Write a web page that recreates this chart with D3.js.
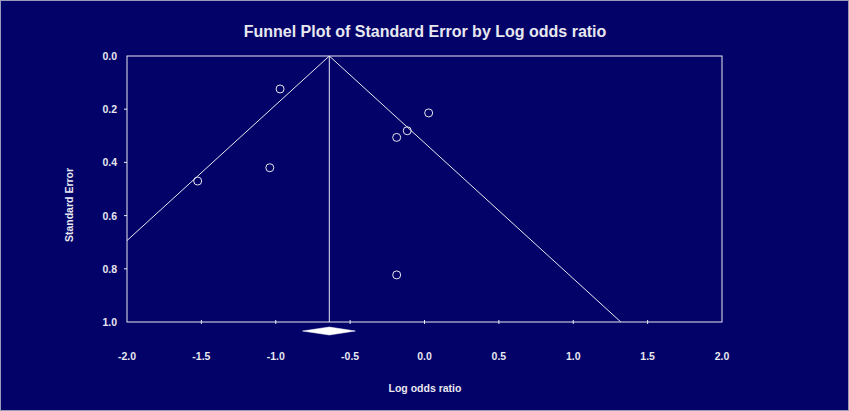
<!DOCTYPE html>
<html><head><meta charset="utf-8">
<script src="https://cdn.jsdelivr.net/npm/d3@7"></script>
<style>
html,body{margin:0;padding:0;background:#020268;}
svg{display:block;}
</style></head>
<body>
<script>
const logOdds = [-0.971, -1.525, -1.04, 0.028, -0.116, -0.187, -0.187];
const stdErr  = [0.124, 0.470, 0.420, 0.214, 0.281, 0.306, 0.823];
const pooledMean = -0.64;
const pooledLower = -0.82;
const pooledUpper = -0.465;
const xTicks = [-2.0, -1.5, -1.0, -0.5, 0.0, 0.5, 1.0, 1.5, 2.0];
const yTicks = [0.0, 0.2, 0.4, 0.6, 0.8, 1.0];
const titleText = "Funnel Plot of Standard Error by Log odds ratio";
const xLabel = "Log odds ratio";
const yLabel = "Standard Error";

const W = 849, H = 411;
const L = 127, R = 722, T = 56, B = 322;
const fg = "#e8e8f0";
const svg = d3.select("body").append("svg").attr("width", W).attr("height", H);
svg.append("rect").attr("x",0.5).attr("y",0.5).attr("width",W-1).attr("height",H-1)
  .attr("fill","#020268").attr("stroke","#9a9ab8").attr("stroke-width",1);

const x = d3.scaleLinear().domain([-2, 2]).range([L, R]);
const y = d3.scaleLinear().domain([0, 1]).range([T, B]);

const font = "'Liberation Sans', Arial, sans-serif";

// plot frame
svg.append("rect").attr("x", L).attr("y", T).attr("width", R-L).attr("height", B-T)
  .attr("fill","none").attr("stroke", fg).attr("stroke-width", 1);

// clip
svg.append("clipPath").attr("id","clip").append("rect")
  .attr("x", L).attr("y", T).attr("width", R-L).attr("height", B-T);

const g = svg.append("g").attr("clip-path","url(#clip)");
// funnel lines
const seMax = 1.0;
g.append("line").attr("x1", x(pooledMean)).attr("y1", y(0))
  .attr("x2", x(pooledMean - 1.96*seMax)).attr("y2", y(seMax))
  .attr("stroke", fg).attr("stroke-width", 1);
g.append("line").attr("x1", x(pooledMean)).attr("y1", y(0))
  .attr("x2", x(pooledMean + 1.96*seMax)).attr("y2", y(seMax))
  .attr("stroke", fg).attr("stroke-width", 1);
g.append("line").attr("x1", x(pooledMean)).attr("y1", y(0))
  .attr("x2", x(pooledMean)).attr("y2", y(1))
  .attr("stroke", fg).attr("stroke-width", 1);

// points
svg.append("g").selectAll("circle").data(logOdds.map((v,i)=>[v, stdErr[i]])).join("circle")
  .attr("cx", d => x(d[0])).attr("cy", d => y(d[1])).attr("r", 4)
  .attr("fill","none").attr("stroke", fg).attr("stroke-width", 1);

// x axis ticks (crossing bottom border)
svg.append("g").selectAll("line").data(xTicks.slice(1, -1)).join("line")
  .attr("x1", d => x(d)).attr("x2", d => x(d))
  .attr("y1", B - 2).attr("y2", B + 2).attr("stroke", fg);
// y axis ticks
svg.append("g").selectAll("line").data(yTicks.slice(1, -1)).join("line")
  .attr("x1", L - 3).attr("x2", L)
  .attr("y1", d => y(d)).attr("y2", d => y(d)).attr("stroke", fg);

// x tick labels
svg.append("g").selectAll("text").data(xTicks).join("text")
  .attr("x", d => x(d)).attr("y", 360).attr("text-anchor","middle")
  .attr("fill", fg).attr("font-family", font).attr("font-size", 10.5).attr("font-weight","bold")
  .text(d => d.toFixed(1));
// y tick labels
svg.append("g").selectAll("text").data(yTicks).join("text")
  .attr("x", 117).attr("y", d => y(d) + 4).attr("text-anchor","end")
  .attr("fill", fg).attr("font-family", font).attr("font-size", 10.5).attr("font-weight","bold")
  .text(d => d.toFixed(1));

// diamond
const dy = 331, dh = 4;
svg.append("path")
  .attr("d", `M${x(pooledLower)},${dy} L${x(pooledMean)},${dy-dh} L${x(pooledUpper)},${dy} L${x(pooledMean)},${dy+dh} Z`)
  .attr("fill","#ffffff").attr("stroke","#ffffff").attr("stroke-width",0.5);

// title
svg.append("text").attr("x", 425).attr("y", 37).attr("text-anchor","middle")
  .attr("fill", fg).attr("font-family", font).attr("font-size", 16).attr("font-weight","bold")
  .text(titleText);
// axis titles
svg.append("text").attr("x", 425).attr("y", 392).attr("text-anchor","middle")
  .attr("fill", fg).attr("font-family", font).attr("font-size", 10.5).attr("font-weight","bold")
  .text(xLabel);
svg.append("text").attr("transform", "translate(73,205) rotate(-90)").attr("text-anchor","middle")
  .attr("fill", fg).attr("font-family", font).attr("font-size", 10.5).attr("font-weight","bold")
  .text(yLabel);
</script>
</body></html>
